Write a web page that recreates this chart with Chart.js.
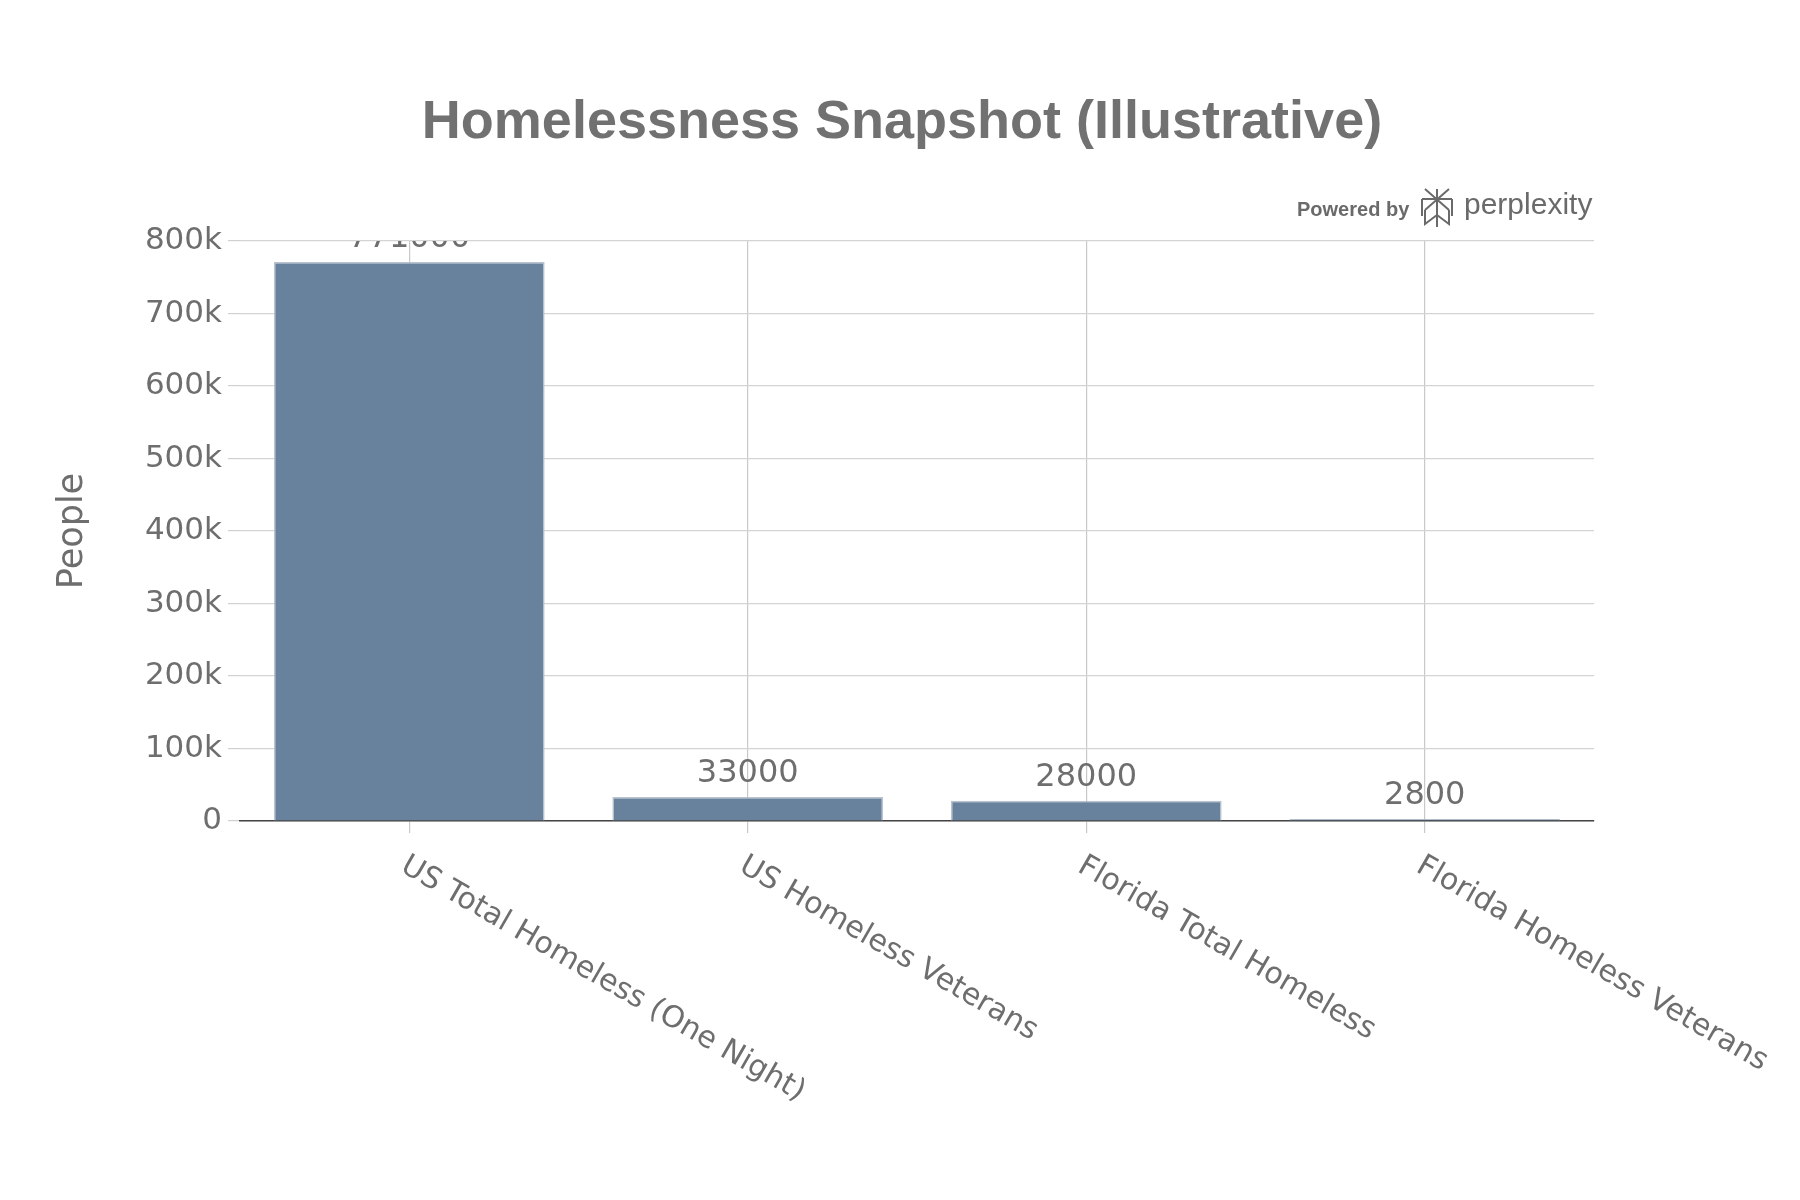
<!DOCTYPE html>
<html>
<head>
<meta charset="utf-8">
<script src="https://cdn.jsdelivr.net/npm/chart.js@4.4.1/dist/chart.umd.min.js"></script>
<style>
    html, body { margin: 0; padding: 0; background: #ffffff; }
    #wrap { width: 1800px; height: 1200px; }
</style>
</head>
<body>
<div id="wrap"><canvas id="homelessChart" width="1800" height="1200"></canvas></div>
<script>
// Chart data
const categories = [
    'US Total Homeless (One Night)',
    'US Homeless Veterans',
    'Florida Total Homeless',
    'Florida Homeless Veterans'
];
const people = [771000, 33000, 28000, 2800];
const yTicks = [0, 100000, 200000, 300000, 400000, 500000, 600000, 700000, 800000];

const textGray = '#6e6e6e';
const baseFont = '"DejaVu Sans", "Liberation Sans", sans-serif';

// Draws title, value labels, rotated category labels and the credit line
const overlayPlugin = {
    id: 'overlay',
    afterDatasetsDraw(chart) {
        const ctx = chart.ctx;
        const area = chart.chartArea;
        const meta = chart.getDatasetMeta(0);

        // value labels above bars, clipped to the plot like the original
        ctx.save();
        ctx.beginPath();
        ctx.rect(area.left, area.top, area.right - area.left, area.bottom - area.top);
        ctx.clip();
        ctx.fillStyle = textGray;
        ctx.font = '32px ' + baseFont;
        ctx.textAlign = 'center';
        ctx.textBaseline = 'bottom';
        meta.data.forEach((bar, i) => {
            ctx.fillText(String(people[i]), bar.x, bar.y - 7);
        });
        ctx.restore();
    },
    afterDraw(chart) {
        const ctx = chart.ctx;
        const area = chart.chartArea;
        const xScale = chart.scales.x;

        // title
        ctx.save();
        ctx.fillStyle = '#717171';
        ctx.font = 'bold 54px "Liberation Sans", Arial, sans-serif';
        ctx.textAlign = 'center';
        ctx.textBaseline = 'middle';
        ctx.fillText('Homelessness Snapshot (Illustrative)', 902, 123);
        ctx.restore();

        // rotated category labels
        ctx.save();
        ctx.fillStyle = textGray;
        ctx.font = '30px ' + baseFont;
        ctx.textAlign = 'left';
        ctx.textBaseline = 'middle';
        categories.forEach((label, i) => {
            const x = xScale.getPixelForTick(i);
            ctx.save();
            ctx.translate(x - 6, area.bottom + 43);
            ctx.rotate(Math.PI / 6);
            ctx.fillText(label, 0, 0);
            ctx.restore();
        });
        ctx.restore();

        // "Powered by perplexity"
        ctx.save();
        ctx.fillStyle = '#6a6a6a';
        ctx.textBaseline = 'alphabetic';
        ctx.textAlign = 'left';
        ctx.font = 'bold 20px "Liberation Sans", Arial, sans-serif';
        ctx.fillText('Powered by', 1297, 216);
        ctx.font = '30px "Liberation Sans", Arial, sans-serif';
        ctx.fillText('perplexity', 1464, 214);
        // simple logo mark
        ctx.strokeStyle = '#6a6a6a';
        ctx.lineWidth = 2;
        const cx = 1437, top = 189, mid = 204, bot = 227;
        ctx.beginPath();
        ctx.moveTo(cx, top); ctx.lineTo(cx, bot);
        ctx.moveTo(cx - 12, top); ctx.lineTo(cx + 12, mid + 6);
        ctx.moveTo(cx + 12, top); ctx.lineTo(cx - 12, mid + 6);
        ctx.moveTo(cx - 15, mid - 5); ctx.lineTo(cx + 15, mid - 5);
        ctx.moveTo(cx - 15, mid - 5); ctx.lineTo(cx - 15, mid + 12);
        ctx.moveTo(cx + 15, mid - 5); ctx.lineTo(cx + 15, mid + 12);
        ctx.moveTo(cx - 12, mid + 6); ctx.lineTo(cx - 12, bot - 3); ctx.lineTo(cx, bot - 12);
        ctx.moveTo(cx + 12, mid + 6); ctx.lineTo(cx + 12, bot - 3); ctx.lineTo(cx, bot - 12);
        ctx.stroke();
        ctx.restore();
    }
};

const chartCtx = document.getElementById('homelessChart').getContext('2d');
const homelessChart = new Chart(chartCtx, {
    type: 'bar',
    data: {
        labels: categories,
        datasets: [{
            label: 'People',
            data: people,
            backgroundColor: '#68829e',
            borderColor: '#b9c3cf',
            borderWidth: 1.5,
            barPercentage: 0.8,
            categoryPercentage: 1.0
        }]
    },
    options: {
        responsive: false,
        animation: false,
        layout: {
            padding: { top: 241, right: 206, bottom: 367, left: 0 }
        },
        plugins: {
            legend: { display: false },
            title: { display: false },
            tooltip: { enabled: false }
        },
        scales: {
            x: {
                offset: true,
                grid: {
                    offset: false,
                    color: '#c8c8c8',
                    lineWidth: 1.2,
                    tickLength: 12,
                    tickColor: '#c8c8c8'
                },
                border: { display: true, color: '#444444', width: 1.5 },
                ticks: { display: false }
            },
            y: {
                min: 0,
                max: 800000,
                afterBuildTicks(scale) {
                    scale.ticks = yTicks.map(v => ({ value: v }));
                },
                afterFit(scale) {
                    scale.width = 240;
                },
                grid: {
                    color: '#d4d4d4',
                    lineWidth: 1.2,
                    tickLength: 12,
                    tickColor: '#d0d0d0'
                },
                border: { display: false },
                ticks: {
                    color: textGray,
                    padding: 6,
                    font: { family: baseFont, size: 31 },
                    callback: v => (v === 0 ? '0' : (v / 1000) + 'k')
                },
                title: {
                    display: true,
                    text: 'People',
                    color: textGray,
                    font: { family: baseFont, size: 35 },
                    padding: { top: 52, bottom: 0 }
                }
            }
        }
    },
    plugins: [overlayPlugin]
});
</script>
</body>
</html>
